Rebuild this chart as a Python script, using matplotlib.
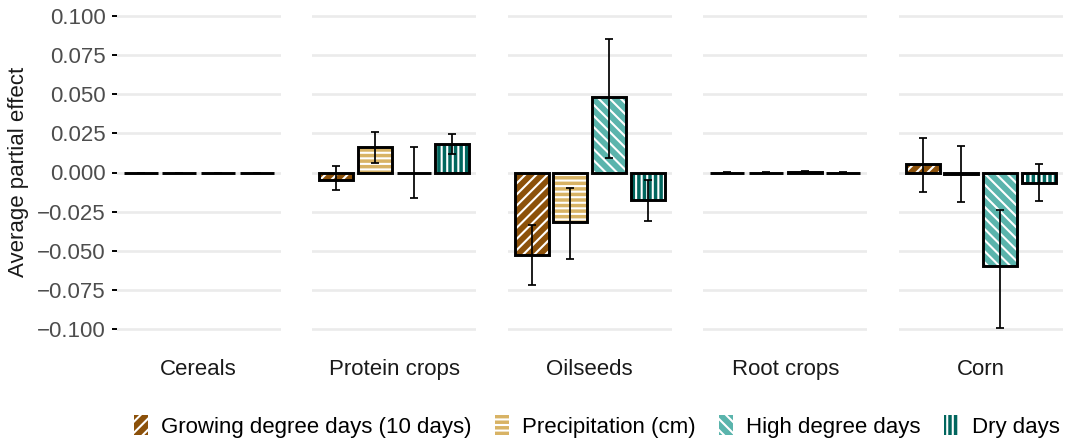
import matplotlib
matplotlib.use("Agg")
import matplotlib.pyplot as plt
from matplotlib.patches import Patch
import numpy as np

plt.rcParams['font.family'] = ['Liberation Sans', 'DejaVu Sans']
plt.rcParams['hatch.color'] = 'white'
plt.rcParams['hatch.linewidth'] = 1.5

# ---------------- data ----------------
crops = ["Cereals", "Protein crops", "Oilseeds", "Root crops", "Corn"]
variables = ["Growing degree days (10 days)", "Precipitation (cm)",
             "High degree days", "Dry days"]

gdd = [0.0, -0.0045, -0.0525, 0.0, 0.0053]
gdd_lo = [0.0, -0.0110, -0.0719, -0.0003, -0.0123]
gdd_hi = [0.0, 0.0040, -0.0336, 0.0003, 0.0223]

prec = [0.0, 0.0161, -0.0317, 0.0, -0.0012]
prec_lo = [0.0, 0.0060, -0.0553, -0.0003, -0.0187]
prec_hi = [0.0, 0.0260, -0.0102, 0.0003, 0.0170]

hdd = [0.0, 0.0, 0.0483, 0.0002, -0.0600]
hdd_lo = [0.0, -0.0164, 0.0091, -0.0005, -0.0995]
hdd_hi = [0.0, 0.0164, 0.0850, 0.0012, -0.0240]

dry = [0.0, 0.0185, -0.0174, 0.0, -0.0066]
dry_lo = [0.0, 0.0120, -0.0308, -0.0003, -0.0179]
dry_hi = [0.0, 0.0245, -0.0045, 0.0003, 0.0057]

yticks = [-0.100, -0.075, -0.050, -0.025, 0.000, 0.025, 0.050, 0.075, 0.100]

colors = ["#8c510a", "#d8b365", "#5ab4ac", "#01665e"]
hatches = ["///", "---", "\\\\\\", "|||"]

values = [gdd, prec, hdd, dry]
lows = [gdd_lo, prec_lo, hdd_lo, dry_lo]
highs = [gdd_hi, prec_hi, hdd_hi, dry_hi]

# ---------------- figure ----------------
W, H = 1071, 442
fig = plt.figure(figsize=(W / 100, H / 100), dpi=100)

panel_w = 164.0
panel_step = 195.5
panel_left0 = 116.7
panel_top = 0.35
panel_bottom = 344.65

bar_w = 0.88
for i, crop in enumerate(crops):
    left = panel_left0 + i * panel_step
    ax = fig.add_axes([left / W, 1 - panel_bottom / H, panel_w / W,
                       (panel_bottom - panel_top) / H])
    for j in range(len(variables)):
        v = values[j][i]
        ax.bar(j, v, width=bar_w, color=colors[j], edgecolor='white',
               hatch=hatches[j], linewidth=0, zorder=2)
        ax.bar(j, v, width=bar_w, fill=False, edgecolor='black',
               linewidth=2.1, zorder=3)
        lo, hi = lows[j][i], highs[j][i]
        ax.errorbar(j, v, yerr=[[v - lo], [hi - v]], fmt='none',
                    ecolor='black', elinewidth=1.25, capsize=3, capthick=1.25,
                    zorder=4)
    ax.set_xlim(-0.619, 3.619)
    ax.set_ylim(-0.11, 0.11)
    ax.set_yticks(yticks)
    ax.set_xticks([])
    for s in ax.spines.values():
        s.set_visible(False)
    ax.yaxis.grid(True, color='#ebebeb', linewidth=1.9)
    ax.set_axisbelow(True)
    if i == 0:
        ax.set_yticklabels([f"{t:.3f}".replace('-', '\u2212') for t in yticks])
        ax.tick_params(axis='y', length=3.6, width=1.4, color='black',
                       pad=4.3, labelsize=16, labelcolor='#4d4d4d')
    else:
        ax.tick_params(axis='y', length=0, labelleft=False)
    ax.text(0.5, (panel_bottom - 375) / (panel_bottom - panel_top), crop,
            transform=ax.transAxes, ha='center', va='baseline',
            fontsize=16, color='#1a1a1a')

fig.text(18.5 / W, 1 - 172 / H, "Average partial effect", rotation=90,
         ha='center', va='center', fontsize=16, color='#1a1a1a')

handles = [Patch(facecolor=colors[j], edgecolor='white', hatch=hatches[j],
                 linewidth=0) for j in range(len(variables))]
fig.legend(handles, variables, loc='center',
           bbox_to_anchor=(596.5 / W, 1 - 426.5 / H), ncol=4, frameon=False,
           fontsize=16, handlelength=0.63, handleheight=1.0,
           handletextpad=0.6, columnspacing=1.05, borderpad=0,
           borderaxespad=0)

fig.savefig("out.png", dpi=100)
